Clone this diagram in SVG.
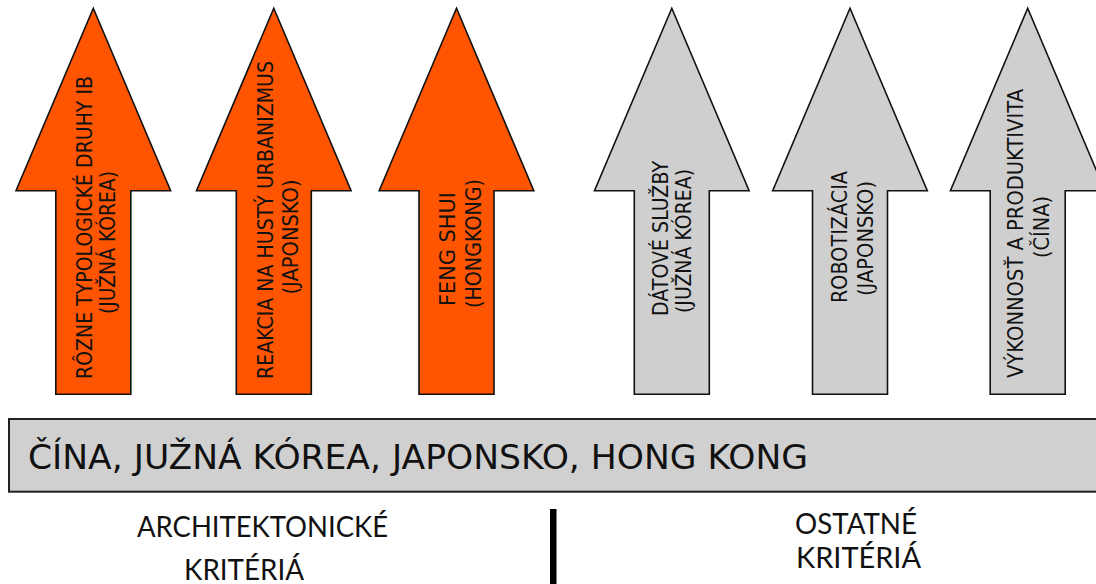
<svg xmlns="http://www.w3.org/2000/svg" xmlns:xlink="http://www.w3.org/1999/xlink" width="1096" height="584" viewBox="0 0 1096 584">
  <style>
    .orange { fill: #FF5500; }
    .grey { fill: #CFCFCF; }
    .outline { stroke: #111111; stroke-width: 1.6; stroke-linejoin: miter; }
    .vlabel { font-family: "DejaVu Sans", Verdana, sans-serif; font-size: 21.5px; fill: #111111; text-anchor: middle; }
    .band { fill: #D0D0D0; stroke: #222222; stroke-width: 2; }
    .bandtext { font-family: "DejaVu Sans", Verdana, sans-serif; font-size: 34px; fill: #111111; }
    .caption { font-family: Lato, "Open Sans", sans-serif; font-size: 29px; fill: #111111; }
  </style>
  <defs>
    <!-- upward block arrow, tip at (0,0) -->
    <path id="uparrow" d="M0,0 L77.3,182.5 L37.5,182.5 L37.5,386 L-37.5,386 L-37.5,182.5 L-77.3,182.5 Z"/>
  </defs>

  <rect width="1096" height="584" fill="#FFFFFF"/>

  <!-- architectural criteria -->
  <g id="arrow-typologie">
    <use xlink:href="#uparrow" href="#uparrow" x="93.3" y="8.3" class="orange outline"/>
    <text class="vlabel" transform="translate(92,227.5) rotate(-90)" textLength="303" lengthAdjust="spacingAndGlyphs">RÔZNE TYPOLOGICKÉ DRUHY IB</text>
    <text class="vlabel" transform="translate(115,242.5) rotate(-90)" textLength="143" lengthAdjust="spacingAndGlyphs">(JUŽNÁ KÓREA)</text>
  </g>
  <g id="arrow-urbanizmus">
    <use xlink:href="#uparrow" href="#uparrow" x="273.8" y="8.3" class="orange outline"/>
    <text class="vlabel" transform="translate(273,220) rotate(-90)" textLength="318" lengthAdjust="spacingAndGlyphs">REAKCIA NA HUSTÝ URBANIZMUS</text>
    <text class="vlabel" transform="translate(298,237) rotate(-90)" textLength="115" lengthAdjust="spacingAndGlyphs">(JAPONSKO)</text>
  </g>
  <g id="arrow-fengshui">
    <use xlink:href="#uparrow" href="#uparrow" x="456.5" y="8.3" class="orange outline"/>
    <text class="vlabel" transform="translate(455,249) rotate(-90)" textLength="114" lengthAdjust="spacingAndGlyphs">FENG SHUI</text>
    <text class="vlabel" transform="translate(481,243.5) rotate(-90)" textLength="129" lengthAdjust="spacingAndGlyphs">(HONGKONG)</text>
  </g>

  <!-- other criteria -->
  <g id="arrow-datove">
    <use xlink:href="#uparrow" href="#uparrow" x="671.8" y="8.3" class="grey outline"/>
    <text class="vlabel" transform="translate(668,238.5) rotate(-90)" textLength="155" lengthAdjust="spacingAndGlyphs">DÁTOVÉ SLUŽBY</text>
    <text class="vlabel" transform="translate(691,241) rotate(-90)" textLength="144" lengthAdjust="spacingAndGlyphs">(JUŽNÁ KÓREA)</text>
  </g>
  <g id="arrow-robotizacia">
    <use xlink:href="#uparrow" href="#uparrow" x="850" y="8.3" class="grey outline"/>
    <text class="vlabel" transform="translate(847,237) rotate(-90)" textLength="132" lengthAdjust="spacingAndGlyphs">ROBOTIZÁCIA</text>
    <text class="vlabel" transform="translate(873,238.5) rotate(-90)" textLength="115" lengthAdjust="spacingAndGlyphs">(JAPONSKO)</text>
  </g>
  <g id="arrow-vykonnost">
    <use xlink:href="#uparrow" href="#uparrow" x="1027.7" y="8.3" class="grey outline"/>
    <text class="vlabel" transform="translate(1023,233.5) rotate(-90)" textLength="289" lengthAdjust="spacingAndGlyphs">VÝKONNOSŤ A PRODUKTIVITA</text>
    <text class="vlabel" transform="translate(1048.5,227) rotate(-90)" textLength="62" lengthAdjust="spacingAndGlyphs">(ČÍNA)</text>
  </g>

  <!-- base band -->
  <g id="band-countries">
    <rect class="band" x="9" y="419" width="1095" height="72.7"/>
    <text class="bandtext" x="28" y="469" textLength="780" lengthAdjust="spacingAndGlyphs">ČÍNA, JUŽNÁ KÓREA, JAPONSKO, HONG KONG</text>
  </g>

  <!-- captions under the band -->
  <g id="caption-architektonicke">
    <text class="caption" x="137" y="537" textLength="251" lengthAdjust="spacingAndGlyphs">ARCHITEKTONICKÉ</text>
    <text class="caption" x="184" y="580" textLength="120" lengthAdjust="spacingAndGlyphs">KRITÉRIÁ</text>
  </g>
  <g id="divider">
    <rect x="550" y="509" width="6.5" height="75" fill="#000000"/>
  </g>
  <g id="caption-ostatne">
    <text class="caption" x="795" y="534" textLength="122" lengthAdjust="spacingAndGlyphs">OSTATNÉ</text>
    <text class="caption" x="796" y="568" textLength="125" lengthAdjust="spacingAndGlyphs">KRITÉRIÁ</text>
  </g>
</svg>
